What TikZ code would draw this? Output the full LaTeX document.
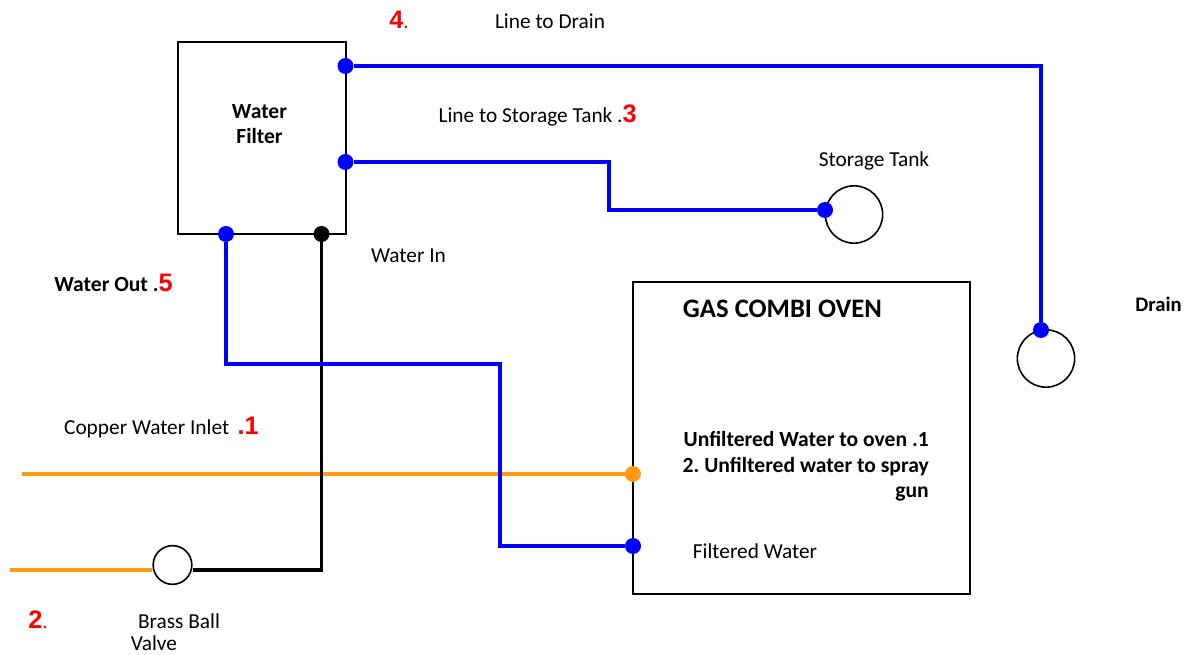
\documentclass[tikz,border=0pt]{standalone}
\usepackage{fontspec}
\setmainfont{Carlito}
\newfontfamily\numfont{Liberation Sans}
\usetikzlibrary{positioning}
\definecolor{pipeblue}{RGB}{0,0,255}
\definecolor{pipeorange}{RGB}{255,153,20}
\newcommand{\num}[1]{\textcolor{red}{\numfont\bfseries\fontsize{19}{19}\selectfont #1}}
\frenchspacing

\begin{document}
\begin{tikzpicture}[x=0.75pt,y=-0.75pt,
	box/.style={draw=black,line width=1.5pt,inner sep=0pt},
	bluedot/.style={fill=pipeblue,circle,inner sep=0pt,minimum size=12pt},
	blackdot/.style={fill=black,circle,inner sep=0pt,minimum size=12pt},
	orangedot/.style={fill=pipeorange,circle,inner sep=0pt,minimum size=12pt},
	ring/.style={draw=black,fill=white,circle,line width=1.2pt,inner sep=0pt,minimum size=#1},
	lbl/.style={font=\fontsize{16}{19}\selectfont,inner sep=0pt},
	bold/.style={font=\fontsize{16.2}{19.2}\selectfont\bfseries,inner sep=0pt},
	bluepipe/.style={draw=pipeblue,line width=2.6pt},
	orangepipe/.style={draw=pipeorange,line width=2.3pt},
	blackpipe/.style={draw=black,line width=2.6pt}]
	\useasboundingbox (0,0) rectangle (1185,655);
	% boxes
	\node[box,minimum width=126pt,minimum height=144pt] (filter) at (261.5,138) {};
	\node[box,minimum width=252.5pt,minimum height=234pt] (oven) at (801.5,438) {};
	% valves and tanks
	\node[ring=29pt] (valve) at (172.5,565) {};
	\node[ring=43pt] (tank) at (854,214.5) {};
	\node[ring=43pt] (drain) at (1046,358.5) {};
	% free ends
	\coordinate (inleta) at (22,474);
	\coordinate (inletb) at (10,570);
	% ports
	\node[bluedot] (drainport) at (345.5,66) {};
	\node[bluedot] (tankport) at (345.5,162) {};
	\node[bluedot] (outport) at (226,234) {};
	\node[blackdot] (inport) at (321.5,234) {};
	\node[orangedot] (ovenin) at (633,474) {};
	\node[bluedot] (ovenfilt) at (633,546) {};
	\node[bluedot] (tankin) at (825,210) {};
	\node[bluedot] (drainin) at (1041,330) {};
	% pipes
	\path[orangepipe] (inleta) -- (ovenin);
	\path[orangepipe] (inletb) -- (valve.west |- inletb);
	\path[blackpipe] (valve.east |- inletb) -| (inport);
	\path[bluepipe] (drainport) -| (drainin);
	\path[bluepipe] (tankport) -| (609,210) -- (tankin);
	\path[bluepipe] (outport) |- (500,364) |- (ovenfilt);
	% labels
	\node[bold] (filtertxt) at (259.5,126) {\begin{tabular}{@{}c@{}}Water\\Filter\end{tabular}};
	\node[font=\fontsize{20}{24}\selectfont\bfseries,inner sep=0pt] (oventxt) at (782.5,309) {GAS COMBI OVEN};
	\node[bold,align=right,anchor=north east] (unfilt) at (929,431) {Unfiltered Water to oven .1\\2. Unfiltered water to spray\\gun};
	\node[lbl] (filt) at (755,551) {Filtered Water};
	\node[lbl] (drainline) at (550,21) {Line to Drain};
	\node[lbl] (four) at (399,20) {\num{4}\textcolor{red}{.}};
	\node[lbl,anchor=base east] (tankline) at (637,123) {Line to Storage Tank .\num{3}};
	\node[lbl] (tanktxt) at (874,161) {Storage Tank};
	\node[lbl] (waterin) at (408.5,256) {Water In};
	\node[bold,anchor=base east] (waterout) at (173,292) {Water Out .\num{5}};
	\node[bold,anchor=east,font=\fontsize{15.5}{18}\selectfont\bfseries] (draintxt) at (1182,304) {Drain};
	\node[lbl,anchor=base east] (copper) at (259,435) {Copper Water Inlet \,\num{.1}};
	\node[lbl] (two) at (38,620) {\num{2}\textcolor{red}{.}};
	\node[lbl] (brass) at (179,621) {Brass Ball};
	\node[lbl] (valvetxt) at (154,643) {Valve};
\end{tikzpicture}
\end{document}
